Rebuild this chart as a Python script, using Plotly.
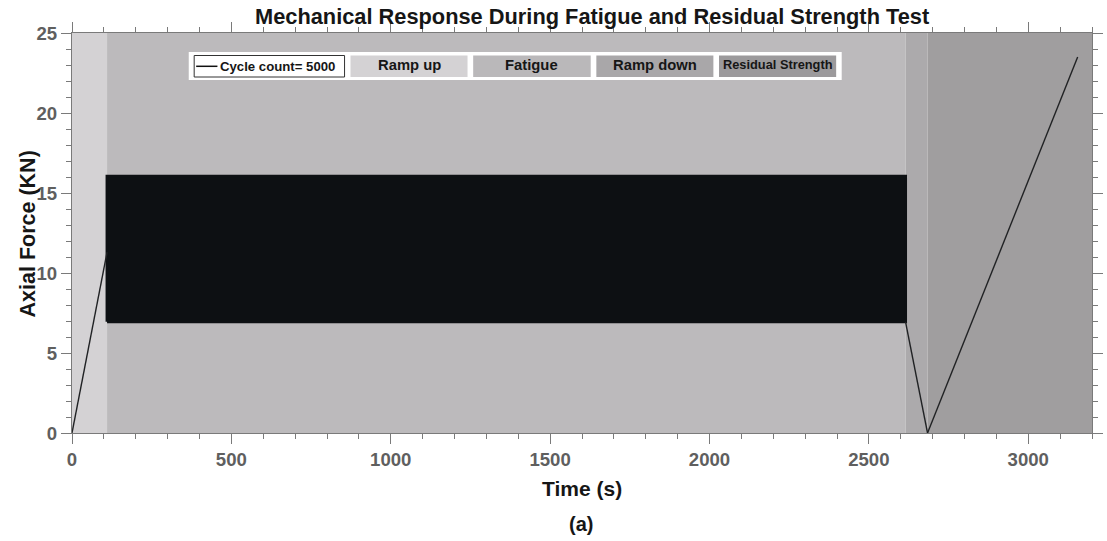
import plotly.graph_objects as go

# ---- data ----
phase_names = ["Ramp up", "Fatigue", "Ramp down", "Residual Strength"]
phase_start = [0, 110, 2615, 2684]
phase_end = [110, 2615, 2684, 3200]
phase_colors = ["#d4d2d4", "#bcbabc", "#acaaac", "#a09e9f"]

ramp_up_t = [0, 110]
ramp_up_f = [0, 11.3]
fatigue_t = [110, 2615]
fatigue_max = 16.05
fatigue_min = 6.95
ramp_down_t = [2615, 2684]
ramp_down_f = [6.95, 0]
residual_t = [2684, 3155]
residual_f = [0, 23.5]
cycle_count = 5000

x_ticks = [0, 500, 1000, 1500, 2000, 2500, 3000]
y_ticks = [0, 5, 10, 15, 20, 25]

W, H = 1107, 541
L, R, T, B = 72, 4, 33, 108
PW, PH = W - L - R, H - T - B

def px(x):
    return (x - L) / PW

def py(y):
    return (H - B - y) / PH

FONT = "Liberation Sans, Arial, sans-serif"
TICKC = "#5f5f5f"
AXC = "#7a7a7a"
TXT = "#161616"

fig = go.Figure()

# fatigue band (envelope of the 5000 cycles)
fig.add_trace(go.Scatter(
    x=[fatigue_t[0], fatigue_t[1], fatigue_t[1], fatigue_t[0], fatigue_t[0]],
    y=[fatigue_min, fatigue_min, fatigue_max, fatigue_max, fatigue_min],
    fill="toself", fillcolor="#0d1013", mode="lines",
    line=dict(color="#0d1013", width=3), showlegend=False, hoverinfo="skip"))

# ramp lines
line_t = ramp_up_t + [None] + ramp_down_t + [None] + residual_t
line_f = ramp_up_f + [None] + ramp_down_f + [None] + residual_f
fig.add_trace(go.Scatter(x=line_t, y=line_f, mode="lines",
                         line=dict(color="#202224", width=1.4),
                         showlegend=False, hoverinfo="skip"))

shapes = []
for s, e, c in zip(phase_start, phase_end, phase_colors):
    shapes.append(dict(type="rect", xref="x", yref="paper", x0=s, x1=e, y0=0, y1=1,
                       fillcolor=c, line=dict(width=0), layer="below"))

# custom legend
annotations = []
shapes.append(dict(type="rect", xref="paper", yref="paper",
                   x0=px(190), x1=px(850), y0=py(80), y1=py(52),
                   fillcolor="white", line=dict(width=0)))
shapes.append(dict(type="rect", xref="paper", yref="paper",
                   x0=px(195.5), x1=px(347.5), y0=py(77), y1=py(55.5),
                   fillcolor="white", line=dict(color="#333333", width=1)))
shapes.append(dict(type="line", xref="paper", yref="paper",
                   x0=px(197.5), x1=px(219), y0=py(66.3), y1=py(66.3),
                   line=dict(color="#111111", width=1.5)))
annotations.append(dict(xref="paper", yref="paper", x=px(219.5), y=py(66.5),
                        xanchor="left", yanchor="middle", showarrow=False,
                        text="<b>Cycle count= %d</b>" % cycle_count,
                        font=dict(family=FONT, size=13.2, color=TXT)))
box_x = [(353.5, 471.8), (477.5, 596.3), (602, 720.3), (726, 844.4)]
box_fill = ["#d4d2d4", "#bab8ba", "#a9a7a9", "#9c9a9c"]
box_size = [14.8, 14.8, 14.8, 12.8]
for (a, b), c, name, fs in zip(box_x, box_fill, phase_names, box_size):
    shapes.append(dict(type="rect", xref="paper", yref="paper",
                       x0=px(a), x1=px(b), y0=py(77), y1=py(55.5),
                       fillcolor=c, line=dict(width=0)))
    annotations.append(dict(xref="paper", yref="paper", x=px((a + b) / 2), y=py(65),
                            xanchor="center", yanchor="middle", showarrow=False,
                            text="<b>%s</b>" % name,
                            font=dict(family=FONT, size=fs, color=TXT)))

# title, axis titles, (a)
annotations.append(dict(xref="paper", yref="paper", x=px(598), y=py(16),
                        xanchor="center", yanchor="middle", showarrow=False,
                        text="<b>Mechanical Response During Fatigue and Residual Strength Test</b>",
                        font=dict(family=FONT, size=21.8, color=TXT)))
annotations.append(dict(xref="paper", yref="paper", x=px(587), y=py(488),
                        xanchor="center", yanchor="middle", showarrow=False,
                        text="<b>Time (s)</b>",
                        font=dict(family=FONT, size=21, color=TXT)))
annotations.append(dict(xref="paper", yref="paper", x=px(28), y=py(234),
                        xanchor="center", yanchor="middle", showarrow=False,
                        textangle=-90,
                        text="<b>Axial Force (KN)</b>",
                        font=dict(family=FONT, size=21.5, color=TXT)))
annotations.append(dict(xref="paper", yref="paper", x=px(586), y=py(524),
                        xanchor="center", yanchor="middle", showarrow=False,
                        text="<b>(a)</b>",
                        font=dict(family=FONT, size=20, color=TXT)))

axis_common = dict(showline=True, linecolor=AXC, linewidth=1.3, mirror="ticks",
                   ticks="outside", tickcolor=AXC, tickwidth=1.3, ticklen=10,
                   showgrid=False, zeroline=False,
                   tickfont=dict(family=FONT, size=18.6, color=TICKC))

fig.update_layout(
    width=W, height=H,
    margin=dict(l=L, r=R, t=T, b=B, pad=0),
    paper_bgcolor="white", plot_bgcolor="white",
    shapes=shapes, annotations=annotations,
    xaxis=dict(range=[0, 3200], tickvals=x_ticks,
               ticktext=["<b>%d</b>" % v for v in x_ticks],
               minor=dict(dtick=100, ticks="outside", ticklen=5, tickcolor=AXC, tickwidth=1.2),
               **axis_common),
    yaxis=dict(range=[0, 25], tickvals=y_ticks,
               ticktext=["<b>%d</b>" % v for v in y_ticks],
               minor=dict(dtick=1, ticks="outside", ticklen=5, tickcolor=AXC, tickwidth=1.2),
               **axis_common),
)

fig.write_html("out.html")
